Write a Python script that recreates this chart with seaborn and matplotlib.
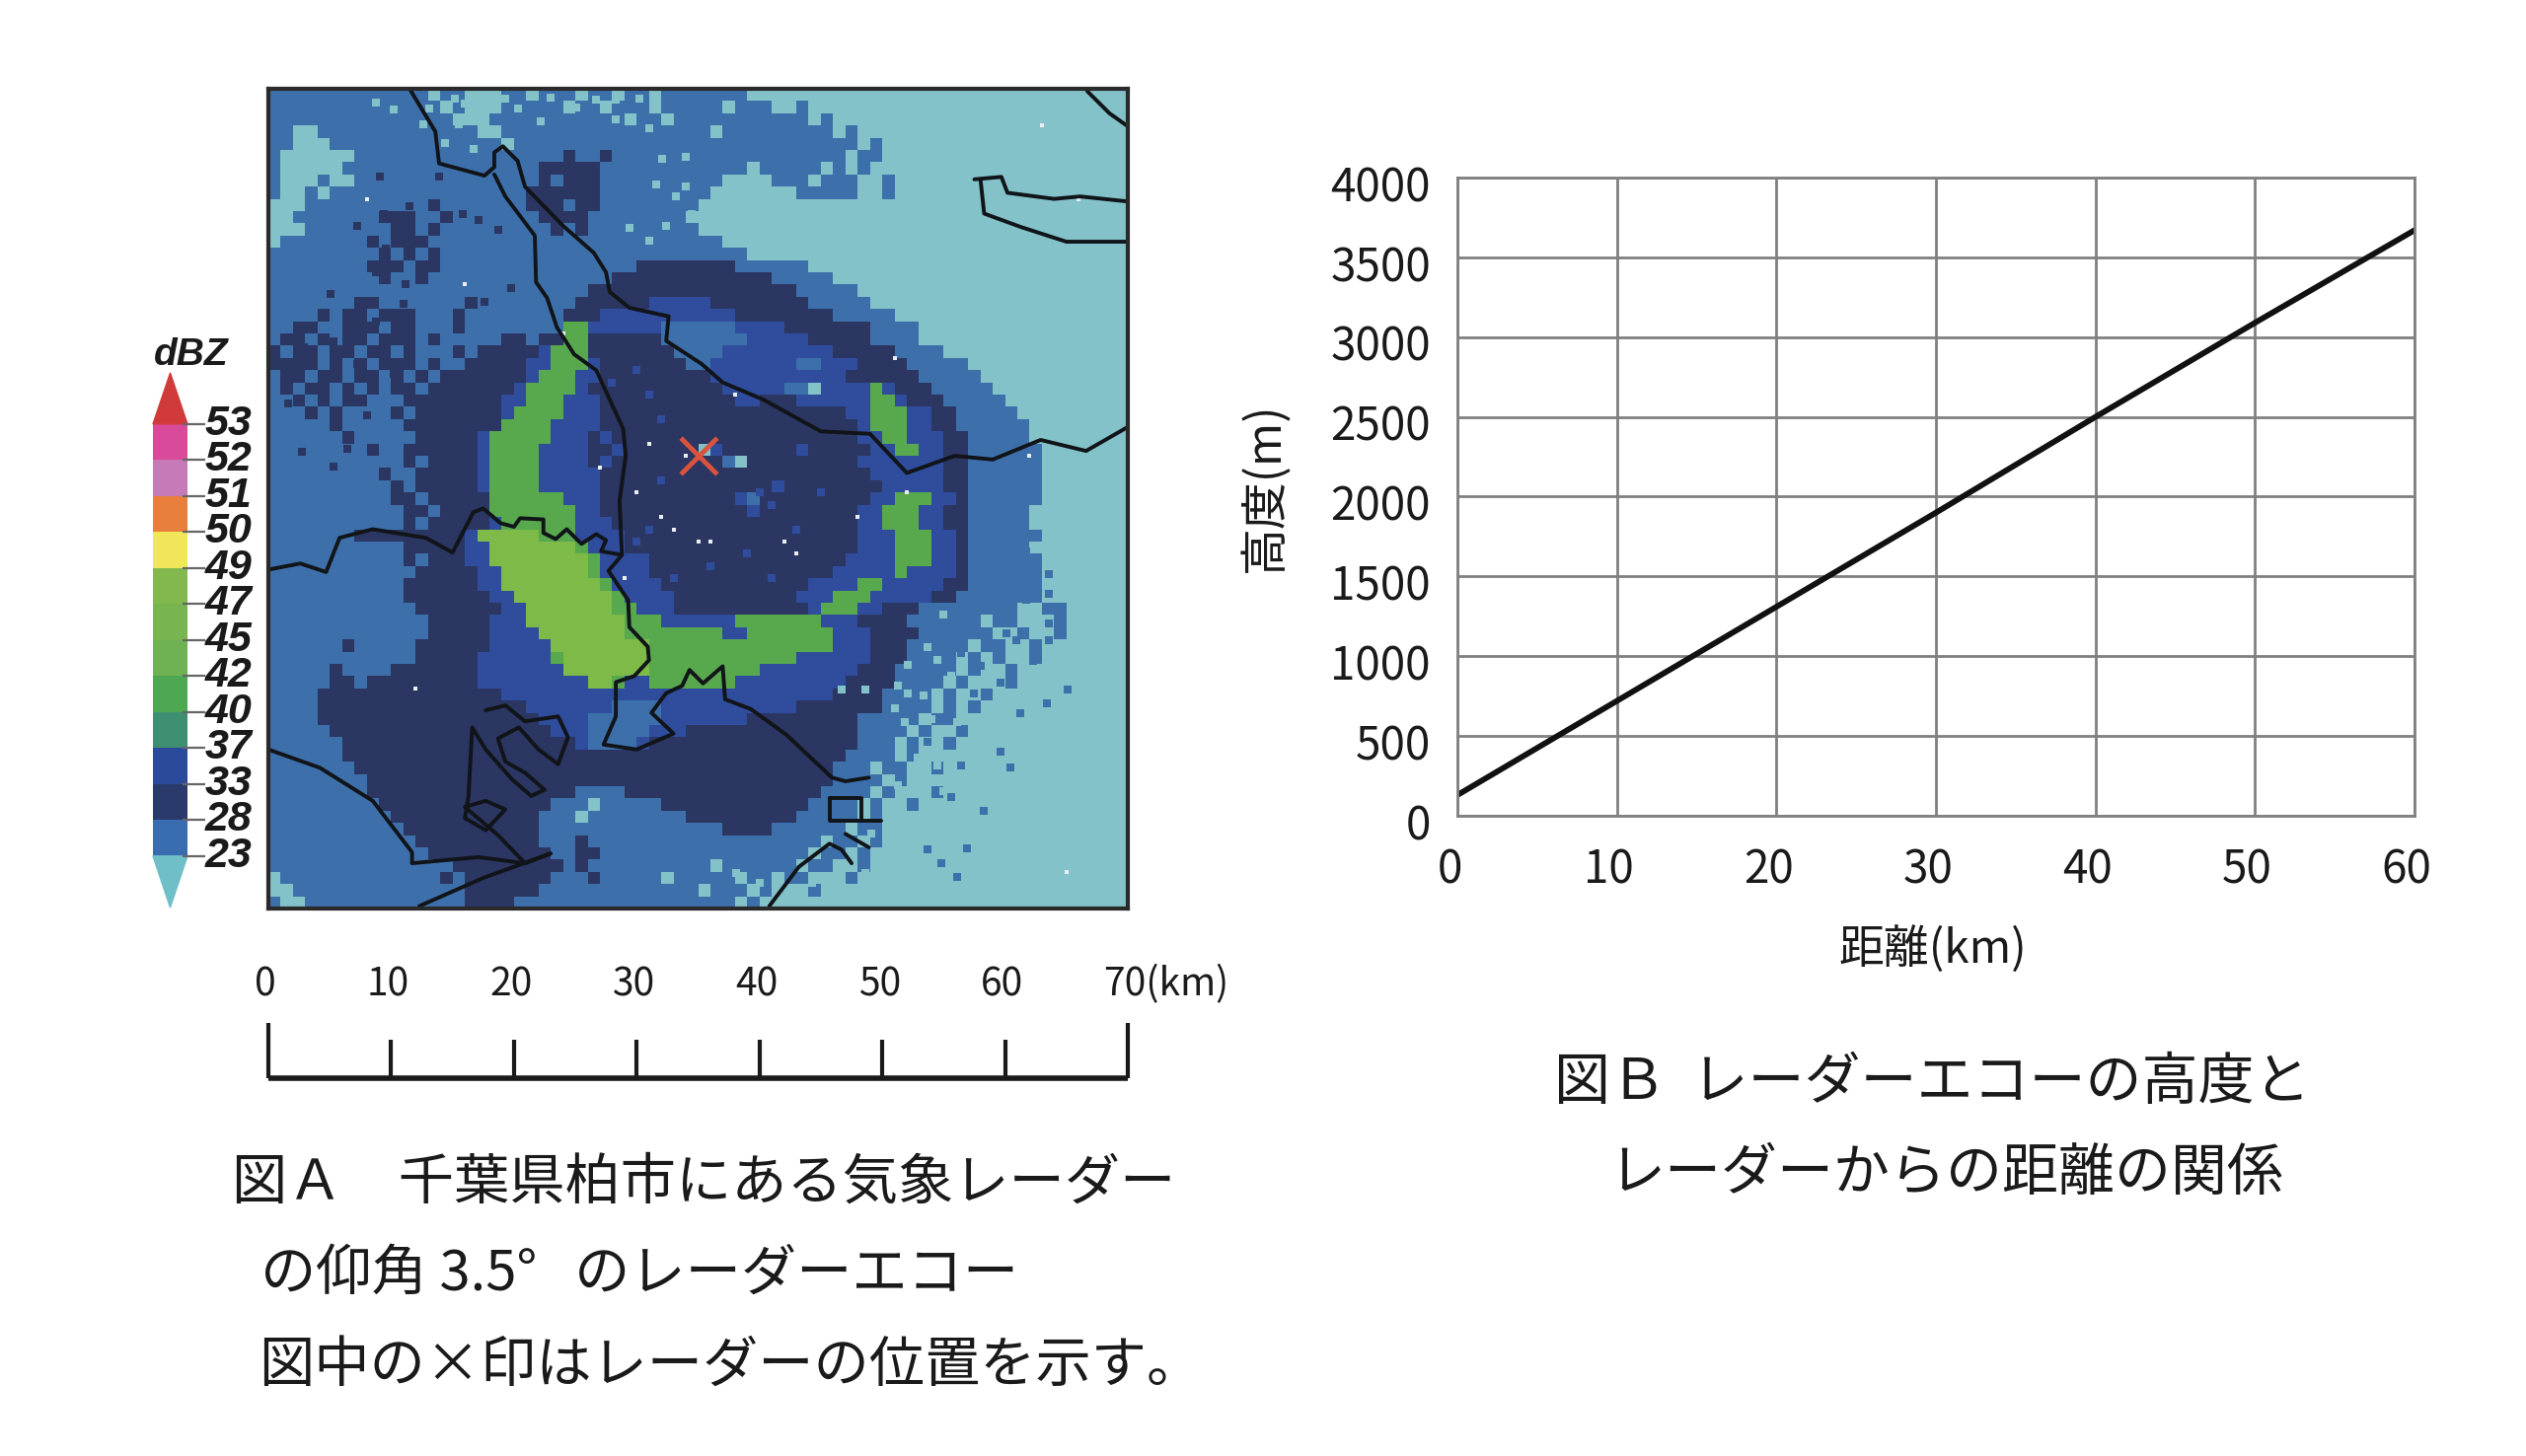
import matplotlib
matplotlib.use('Agg')
import matplotlib.pyplot as plt
from matplotlib.colors import ListedColormap
import numpy as np
import pandas as pd
import seaborn as sns

# radar echo, 1 km cells, one letter per level, blocks of ten
echo_rows = [
    "bbbbbbbbbb bbbabbaaab babbbabbab babbbbbbba aaaaaaaaaa aaaaaaaaaa aaaaaaaaaa",
    "bbbbbbbbbb bbbbabaaab bbbbabbabb babbbbbabb baabaaaaaa aaaaaaaaaa aaaaaaaaaa",
    "bbbbbbbbbb bbbbbaaabb bbbbbbbbba bbabbbbbbb bbbbabaaaa aaaaaaaaaa aaaaaaaaaa",
    "bbaabbbbbb bbbbbbbaab bbbbbbbbbb bbbbbbabbb bbbbbbabaa aaaaaaaaaa aaaaaaaaaa",
    "bbaaabbbbb bbbbbbbbba bbbbbbbbbb bbbbbbbbbb bbbbbbbbab aaaaaaaaaa aaaaaaaaaa",
    "baaaaaabbb bbbbbbbbbb bbbbcbbcbb bbbbbbbbbb bbbbbbbabb aaaaaaaaaa aaaaaaaaaa",
    "baaaaabbbb bbbbbbbbbb bbcccccbbb bbbbbbbbba bbbbbababa aaaaaaaaaa aaaaaaaaaa",
    "baaabaabbb bbbbbbbbbb bbcbcccbbb bbbbbbbaaa abbbabbbaa baaaaaaaaa aaaaaaaaaa",
    "baababbbbb bbbbbbbbbb bccccccbbb bbbbbbaaaa aaabbbbbaa baaaaaaaaa aaaaaaaaaa",
    "aaabbbbbbb bbbcbbbbbb bcccbccbbb bbbbbaaaaa aaaaaaaaaa aaaaaaaaaa aaaaaaaaaa",
    "aabbbbbbbc ccbbcbbbbb bbccccbbbb bbbbaaaaaa aaaaaaaaaa aaaaaaaaaa aaaaaaaaaa",
    "aaabbbbbbb ccbcbbbbbb bbbcbcbbbb bbbbbaaaaa aaaaaaaaaa aaaaaaaaaa aaaaaaaaaa",
    "abbbbbbbcb cccbbbbbbb bbbbbbbbbb bbbbbbbaaa aaaaaaaaaa aaaaaaaaaa aaaaaaaaaa",
    "bbbbbbbbbc bcbcbbbbbb bbbbbbbbbb bbbbbbbbba aaaaaaaaaa aaaaaaaaaa aaaaaaaaaa",
    "bbbbbbbbcc cbccbbbbbb bbbbbbbbbb ccccccccbb bbbbaaaaaa aaaaaaaaaa aaaaaaaaaa",
    "bbbbbbbbbc bbcbbbbbbb bbbbbbbbcc cccccccccc cbbbbbaaaa aaaaaaaaaa aaaaaaaaaa",
    "bbbbbbbbbb bbbbbbbbbb bbbbbbcccc cccccccccc cccbbbbbaa aaaaaaaaaa aaaaaaaaaa",
    "bbbbbbbccb bbbbbbcbbb bbbbbccccc cdddddcccc ccccbbbbba aaaaaaaaaa aaaaaaaaaa",
    "bbbbcbccbc ccbbbcbbbb bbbbcccddd ddddddddcc ccccccbbbb baaaaaaaaa aaaaaaaaaa",
    "bbccbbcccb ccbbbcbbbb bbbbffdddd ddbbbbbbdd ddcccccccb bbbaaaaaaa aaaaaaaaaa",
    "bccbcbccbc ccbcbbbbbc cbccffcccc ccbbbbbbbd ddddcccccb bbbaaaaaaa aaaaaaaaaa",
    "cbccbccbcc bcbbbcbccc ccdfffcccc cccbbbbddd ddddddcccc cbbbbaaaaa aaaaaaaaaa",
    "ccccbcbcbc ccbcbbcccc cddfffdccc ccccbbdddd dddbbdddcc ccbbbbbaaa aaaaaaaaaa",
    "bccbccbccb cbcbcccccc cdfffddccc ccccccdddd dddddddccc cccbbbbbaa aaaaaaaaaa",
    "bcbccbcbcb ccbccccccc dffffdcccc cccccccddd ddbbaddddf dcccbbbbba aaaaaaaaaa",
    "bbcbcbccbb bccccccccd dfffdddccc ccccccccdd cccddddddf fdcccbbbbb aaaaaaaaaa",
    "bbbcbcbbbb cbcccccccd ffffdddccc cccccccccc cccccccddf ffddccbbbb baaaaaaaaa",
    "bbbbbcbbbb bccccccccf fffddddccc cccccccccc ccccccccdf ffddccbbbb bbaaaaaaaa",
    "bbbbbbcbbb bbcccccdff fffdddcdcc cccccccccc ccccccccdd ffdddccbbb bbaaaaaaaa",
    "bbbbbbbbcb bccccccdff ffddddccdc cccccadccc cccdcccccd dffddccbbb bbbaaaaaaa",
    "bbbbbbbbbb bcbccccdff ffddddcdcc cccccccbac ccccccccdd dddddccbbb bbbaaaaaaa",
    "bbbbbbbbbc bbcccccdff ffdddddccc cccccccccc cccccccccd dddddccbbb bbbaaaaaaa",
    "bbbbbbbbbb cbcccccdff ffdddddccc cccccccccc cdcccccccc dddddccbbb bbbaaaaaaa",
    "bbbbbbbbbb ccbcccccff ffffdddccc ccccccccdb cccccccccd dfffddcbbb bbbaaaaaaa",
    "bbbbbbbbbb bccbccccff fffffddccc cccccccccd ccccccccdd fffddccbbb bbaaaaaaaa",
    "bbbbbbbbbb bcbcccccdf fffffdddcc cccccccccc ccccccccdd fffddccbbb bbaaaaaaaa",
    "bbbbbbbccc ccccccdggg ggfffddddc cccccccccc ccccccccdd dfffddcbbb bbbaaaaaaa",
    "bbbbbbbbbb bcccccddgg gggggfdddc cccccccccc ccccccccdd dfffddcbbb bbaaaaaaaa",
    "bbbbbbbbbb bcbcccddgg ggggggfddd dccccccccc cccccccddd dfffddcbbb bbbaaaaaaa",
    "bbbbbbbbbb bbcccccddg ggggggfddd dccccccccc ccccccdddd dfddddcbbb bbbaaaaaaa",
    "bbbbbbbbbb bccccccddg gggggggfdd ddcccccccc ccccddddff dddddccbbb bbbaaaaaaa",
    "bbbbbbbbbb bcccccccdd ggggggggfd dddccccccc cccdddfffd ddddccbbbb bbbaaaaaaa",
    "bbbbbbbbbb bbcccccccd dgggggggff dddccccccc ccccdfffdd cccbbbbbbb baabbaaaaa",
    "bbbbbbbbbb bbbcccccdd dggggggggf ffddddddff fffffdddcc ccbbbbbbab baaabaaaaa",
    "bbbbbbbbbb bbbcccccdd ddgggggggf fffffffddf ffffffdddc cccbbbbbba abaabaaaaa",
    "bbbbbbcbbb bbccccccdd dddggggggg gfffffffff ffffffdddc ccbbbbbabb aabaaaaaaa",
    "bbbbbbbbbb bbcccccddd dddfgggggg gfffffffff fffddddddc ccbbbbabab aabaaaaaaa",
    "bbbbbcbbbb cccccccddd ddddgggggg gfffffffff ddddddddcc cbbbbbabaa baaaaaaaaa",
    "bbbbbccbcc cccccccddd ddddddggfd dfffffffdd dddddddccc cbbbbabaaa baaaaaaaaa",
    "bbbbcccccc cccccccccd dddddddddd dddddddddd ddddddcccc bbbbabaaba aaaaaaaaaa",
    "bbbbcccccc cccccccccc cdddddddbb bbdddddddd dddccccccc bbbbababaa aaaaaaaaaa",
    "bbbbcccccc cccccccccc ccddddbbbb bbdddddddc ccccccccbb bbbabbaaaa aaaaaaaaaa",
    "bbbbbccccc cccccccccc cccdddbbbb bdddcccccc ccccccccbb bbabaabaaa aaaaaaaaaa",
    "bbbbbbcccc cccccccccc cccccdbbbb dccccccccc ccccccccbb babaabaaaa aaaaaaaaaa",
    "bbbbbbcccc cccccccccc cccccccccc cccccccccc cccccccbbb babaaaaaaa aaaaaaaaaa",
    "bbbbbbbccc cccccccccc cccccccccc cccccccccc ccccccbbba bbaabaaaaa aaaaaaaaaa",
    "bbbbbbbbcc cccccccccc cccccccccc cccccccccc ccccccbbbb abaaaaaaaa aaaaaaaaaa",
    "bbbbbbbbcc cccccccccc cccccbbbbc cccccccccc cccccbbbba baaabaaaaa aaaaaaaaaa",
    "bbbbbbbbbc cccccccccc cccbbbabbb bbcccccccc ccccbbbbab aabaaaaaaa aaaaaaaaaa",
    "bbbbbbbbbb cccccccccc ccbbbabbbb bbbbcccccc cccbbbbbab aaaaaaaaaa aaaaaaaaaa",
    "bbbbbbbbbb bccccccccc ccbbbbbbbb bbbbbbbccc cbbbbbbabb aaaaaaaaaa aaaaaaaaaa",
    "bbbbbbbbbb bbcccccccc ccbbbcbbbb bbbbbbbbbb bbbbbabbab aaaaaaaaaa aaaaaaaaaa",
    "bbbbbbbbbb bbbccccccc cccbbccbbb bbbbbbbbbb bbbbabbaba aaaaaaaaaa aaaaaaaaaa",
    "bbbbbbbbbb bbbbbccccc ccccbcbbbb bbbbbbabbb bbbabbaaba aaaaaaaaaa aaaaaaaaaa",
    "abbbbbbbbb bbbbcbcccc cccbbbcbbb bbabbbbbab babbaaabaa aaaaaaaaaa aaaaaaaaaa",
    "aabbbbbbbb bbbbbbcccc ccbbbbbbbb bbbbbabbba baaabaaaaa aaaaaaaaaa aaaaaaaaaa",
    "baabbbbbbb bbbbbbcccc bbbbbbbbbb bbbbbbbbab aaaaaaaaaa aaaaaaaaaa aaaaaaaaaa",
]
echo_letters = "abcdfg"
echo_colors = ['#82c2c8', '#3d70ab', '#2b3662', '#2f4d9c', '#58a84e', '#7dba48']

# finer echo spots that the 1 km cells miss, (km east, km south)
spots_teal = [(8.8, 1.1), (10.2, 1.7), (12.6, 2.9), (13.1, 1.6), (15.2, .8), (16, 1.2), (15.5, 2.9), (16.7, 4.9),
              (14.4, 4.4), (17.6, 1.6), (19.3, .8), (20.3, 1.6), (22.2, 2.7), (23, .7), (25.1, 1.5), (26.7, .9),
              (28.3, .9), (28.3, 2.5), (30.2, .8), (31, 3.2), (32.1, 5.7), (34, 5.6), (31.6, 7.8), (33.2, 8.8),
              (34, 8), (34.5, 10.2), (32.4, 11.2), (29.4, 11.4), (31, 12.4),
              (55, 43), (53.7, 45.6), (54.5, 46.7), (52.1, 47.1), (51.3, 48.8), (52.1, 49.4), (53.4, 49.6), (51, 50.6),
              (51.8, 51.8), (55.6, 48), (56.6, 49.6), (54, 51.5), (56.1, 51.8), (52.9, 54.7), (54.5, 55.3),
              (51.3, 56.9), (55, 57.4), (51.3, 59), (52.4, 60.1), (50.5, 60.3), (49.1, 60.9), (53.4, 62.2),
              (48.6, 64.1), (46.5, 64.6), (44.3, 64.9), (40, 64.9), (38.1, 64.1), (46.7, 49.1), (48.6, 49.1)]
spots_blue = [(58.5, 34.6), (60.1, 35.9), (61.7, 37.8), (60.9, 38.9), (63.6, 39.7), (63.6, 41.3), (61.7, 41.8),
              (63.6, 43.7), (60.1, 44.5), (60.9, 45.1), (63.6, 45.1), (56.4, 46.1), (58, 47.2), (59.6, 48.5),
              (56.6, 48.3), (57.5, 49.4), (65.1, 49.1), (63.4, 50.2), (61.2, 51), (59.6, 54.2), (60.4, 55.5),
              (56.4, 55.3), (55.6, 57.9), (53.7, 62.2), (56.9, 62.1), (54.8, 63.3), (56.1, 64.4), (58.3, 59),
              (62.3, 46.8), (53.7, 53.4)]
spots_navy = [(9.1, 7.2), (13.9, 7.2), (9.4, 10.2), (11.5, 9.6), (13.6, 9.4), (15.8, 10.2), (17.1, 10.7), (18.7, 11.5),
              (7.2, 11.2), (9.6, 13.1), (8.8, 15), (11.2, 16), (5.1, 16.8), (11, 17.6), (4.5, 18.7), (7.2, 18.7),
              (8.8, 19), (17.6, 17.4), (19.8, 16.3), (2.9, 21.1), (2.1, 22.5), (5.3, 20.6), (7.2, 22.5), (10.2, 23.3),
              (1.6, 25.7), (5.6, 26.7), (8, 26.7), (2.7, 29.7), (5.3, 30.9), (6.4, 29.4)]
spots_bright = [(32, 32), (31, 36), (33, 40), (36, 39), (30, 37), (29, 40), (39, 38), (41, 40), (43, 36), (45, 33),
                (32, 27), (31, 25), (40, 33), (41, 34), (28, 24), (30, 23)]

# coast and boundary lines, (km east, km south) from the map corner
line_north = [(11.5, 0), (13.6, 3.5), (13.9, 6.1), (17.6, 7.1), (18.4, 6.4), (18.4, 5.2), (19.1, 4.7), (20.3, 5.9)]
line_inner = [(18.4, 7), (19.3, 8.8), (21.7, 12), (21.8, 15.8), (22.7, 17.1), (23.5, 19.5), (24.9, 21.7), (26.7, 23),
              (28.9, 27.8), (29.1, 30), (28.6, 33.7), (28.8, 38.1)]
line_east = [(20.3, 5.9), (20.9, 8), (24, 11.2), (26.5, 13.4), (27.5, 15), (27.8, 16.6), (29.4, 17.9), (32.6, 18.6),
             (32.4, 20.6), (35.3, 22.5), (37, 24), (40.3, 25.4), (45, 28), (49, 28.2), (52, 31.4), (55.9, 30), (59, 30.3),
             (62.9, 28.7), (66.6, 29.6), (69.9, 27.7)]
line_south = [(0, 39.3), (2.6, 38.8), (4.7, 39.5), (5.8, 36.7), (8.5, 36), (12.8, 36.7), (15, 37.9), (16.7, 34.6),
              (17.5, 34.3), (18.9, 35.5), (20, 35.8), (20.5, 35.1), (22.4, 35.2), (22.4, 36.3), (23.4, 36.8), (24.3, 36),
              (25.5, 37.2), (26.7, 36.4), (27.5, 36.9), (27.1, 37.8), (28.8, 38.1), (27.7, 39.4), (29.3, 41.8),
              (29.4, 44), (30.9, 45.6), (31, 46.7), (29.8, 48), (28.3, 48.5), (28.3, 51.3), (27.3, 53.6), (30, 54),
              (33, 52.7), (31.2, 51), (32.4, 49.4), (33.7, 48.8), (34.3, 47.5), (35.4, 48.6), (37, 47.2), (37.2, 49.9),
              (39.3, 50.7), (42.2, 52.8), (45.9, 56.3), (47, 56.6), (48.9, 56.3)]
line_bay = [(0, 54), (4.2, 55.5), (8.5, 58.2), (11.7, 62.4), (11.7, 63.3), (17.1, 62.8), (20.9, 63.3), (23, 62.5),
            (17.5, 64.5), (12.3, 66.8)]
line_tangle = [(17.7, 50.8), (19.3, 50.4), (20.9, 51.7), (23.6, 51.3), (24.4, 53), (23.6, 55.2), (22, 54), (20.4, 52.2),
               (18.7, 53.1), (19.3, 55), (20.9, 55.9), (22.5, 57.3), (21.4, 57.8), (19.8, 56.4), (17.7, 54),
               (16.6, 52.2), (16.3, 57.8), (16, 59.6), (17.7, 60.6), (19.3, 58.9), (17.7, 58.2), (16, 58.7),
               (18.7, 61), (20.9, 63.3)]
line_box = [(45.7, 58), (48.3, 58), (48.3, 59.8), (45.7, 59.8), (45.7, 58)]
line_pier = [(48.3, 59.8), (49.9, 59.8)]
line_ne_a = [(66.7, 0.2), (68.5, 2), (69.9, 3)]
line_ne_b = [(57.5, 7.4), (59.7, 7.2), (60.2, 8.5), (64, 9), (66.1, 8.8), (69.9, 9.2)]
line_ne_c = [(58, 7.4), (58.3, 10.2), (61.3, 11.3), (65, 12.5), (69.9, 12.5)]
line_se_a = [(40.8, 66.8), (43.2, 63.6), (45.7, 61.7), (46.7, 62.2), (47.5, 63.3)]
line_se_b = [(47, 60.9), (48.9, 62)]
map_lines = [line_north, line_inner, line_east, line_south, line_bay, line_tangle, line_box, line_pier, line_ne_a,
             line_ne_b, line_ne_c, line_se_a, line_se_b]

speck_x = [8, 16, 24, 31, 32, 33, 34, 27, 30, 36, 42, 43, 48, 51, 52, 63, 66, 62, 29, 35, 38, 12, 65]
speck_y = [9, 16, 20, 29, 35, 36, 30, 31, 33, 37, 37, 38, 35, 22, 33, 3, 9, 30, 40, 37, 25, 49, 64]
radar_x, radar_y = 35, 30

# colour bar
bar_labels = ['53', '52', '51', '50', '49', '47', '45', '42', '40', '37', '33', '28', '23']
bar_colors = ['#d94a9a', '#c77ab8', '#e87f3c', '#f0e65a', '#82b84e', '#78b550', '#6fb253', '#4da851', '#3e8f72',
              '#2c4a9c', '#2a3a6b', '#3a6cb0']
bar_top = '#d13a3a'
bar_bottom = '#6fbfc8'

# scale under the map
scale_km = [0, 10, 20, 30, 40, 50, 60, 70]
scale_labels = ['0', '10', '20', '30', '40', '50', '60', '70(km)']

# figure B
distance_km = [0, 10, 20, 30, 40, 50, 60]
height_m = [130, 720, 1310, 1900, 2500, 3090, 3670]
x_ticks = [0, 10, 20, 30, 40, 50, 60]
y_ticks = [0, 500, 1000, 1500, 2000, 2500, 3000, 3500, 4000]

caption_a = ['図Ａ　千葉県柏市にある気象レーダー', 'の仰角 3.5°   のレーダーエコー', '図中の×印はレーダーの位置を示す。']
caption_b = ['図Ｂ  レーダーエコーの高度と', 'レーダーからの距離の関係']

W, H = 2560, 1476
sns.set_theme(style='white')
plt.rcParams['font.family'] = ['Noto Sans CJK JP', 'DejaVu Sans']


def box(left, top, right, bottom):
    return [left / W, 1 - bottom / H, (right - left) / W, (bottom - top) / H]


def put(x, y, s, **kw):
    fig.text(x / W, 1 - y / H, s, **kw)


fig = plt.figure(figsize=(W / 100, H / 100), dpi=100, facecolor='white')

# map
echo = [[echo_letters.index(c) for c in r.replace(' ', '')] for r in echo_rows]
ax_map = fig.add_axes(box(272, 90, 1143, 921))
sns.heatmap(pd.DataFrame(echo), cmap=ListedColormap(echo_colors), vmin=-0.5, vmax=5.5, cbar=False,
            xticklabels=False, yticklabels=False, ax=ax_map)
for spots, col in [(spots_teal, echo_colors[0]), (spots_blue, echo_colors[1]), (spots_navy, echo_colors[2]),
                   (spots_bright, echo_colors[3])]:
    ax_map.scatter([p[0] for p in spots], [p[1] for p in spots], s=30, color=col, marker='s', linewidths=0)
for pts in map_lines:
    ax_map.plot([p[0] for p in pts], [p[1] for p in pts], color='#111418', lw=2.8)
ax_map.scatter(speck_x, speck_y, s=9, color='#e8eef2', marker='s', linewidths=0)
ax_map.scatter([radar_x], [radar_y], marker='x', s=700, color='#d9533f', linewidths=3.5, zorder=5)
for sp in ax_map.spines.values():
    sp.set_visible(True)
    sp.set_color('#2a2a2a')
    sp.set_linewidth(3)

# colour bar
ax_bar = fig.add_axes(box(155, 378, 190, 920))
sns.heatmap(pd.DataFrame(np.arange(12).reshape(-1, 1)), cmap=ListedColormap(bar_colors), cbar=False,
            xticklabels=False, yticklabels=False, ax=ax_bar)
ax_bar.fill([0, 1, 0.5], [0, 0, -1.42], color=bar_top, clip_on=False)
ax_bar.fill([0, 1, 0.5], [12, 12, 13.43], color=bar_bottom, clip_on=False)
ax_bar.set_ylim(13.43, -1.42)
ax_bar.hlines(range(13), 0.85, 1.5, color='#666666', lw=1.6, clip_on=False)
ax_bar.axis('off')
for i, lab in enumerate(bar_labels):
    ax_bar.text(1.5, i, lab, family='Liberation Sans', weight='bold', style='italic', fontsize=31, color='#1a1a1a',
                ha='left', va='center', clip_on=False)
put(194, 360, 'dBZ', family='Liberation Sans', weight='bold', style='italic', fontsize=28, color='#1a1a1a',
    ha='center', va='center')

# scale
ax_scale = fig.add_axes(box(272, 1037, 1143, 1093))
ax_scale.set_xlim(0, 70)
ax_scale.set_ylim(0, 1)
ax_scale.axis('off')
ax_scale.hlines(0, 0, 70, color='#1a1a1a', lw=4, clip_on=False)
ax_scale.vlines(scale_km, 0, [1 if k in (0, 70) else 0.7 for k in scale_km], color='#1a1a1a', lw=3, clip_on=False)
for k, lab in zip(scale_km, scale_labels):
    ax_scale.annotate(lab, (k, 1), xytext=(-25 if k == 70 else -3, 39), textcoords='offset pixels', fontsize=28,
                      color='#1a1a1a', ha='left' if k == 70 else 'center', va='center', annotation_clip=False)

# figure B
ax_b = fig.add_axes(box(1477, 180, 2447, 827))
sns.lineplot(x=distance_km, y=height_m, color='#111111', lw=4.2, ax=ax_b)
ax_b.set_xlim(0, 60)
ax_b.set_ylim(0, 4000)
ax_b.set_xticks(x_ticks)
ax_b.set_yticks(y_ticks)
ax_b.set_xticklabels([])
ax_b.set_yticklabels([])
ax_b.grid(True, color='#808080', lw=2)
ax_b.set_axisbelow(True)
for sp in ax_b.spines.values():
    sp.set_color('#808080')
    sp.set_linewidth(2)
for t in x_ticks:
    ax_b.annotate(str(t), (t, 0), xytext=(-8, -55), textcoords='offset pixels', fontsize=33, color='#1a1a1a',
                  ha='center', va='center', annotation_clip=False)
for t in y_ticks:
    ax_b.annotate(str(t), (0, t), xytext=(-27, -11), textcoords='offset pixels', fontsize=33, color='#1a1a1a',
                  ha='right', va='center', annotation_clip=False)
put(1282, 494, '高度(m)', fontsize=34.5, color='#1a1a1a', rotation=90, ha='center', va='center')
put(1959, 963, '距離(km)', fontsize=33, color='#1a1a1a', ha='center', va='center')

# captions
for y, x, s in zip([1200, 1292, 1385], [235, 264, 262], caption_a):
    put(x, y, s, fontsize=40.5, color='#1a1a1a', ha='left', va='center')
for y, x, s in zip([1098, 1190], [1575, 1630], caption_b):
    put(x, y, s, fontsize=41, color='#1a1a1a', ha='left', va='center')

fig.savefig('out.png', dpi=100, facecolor='white')
